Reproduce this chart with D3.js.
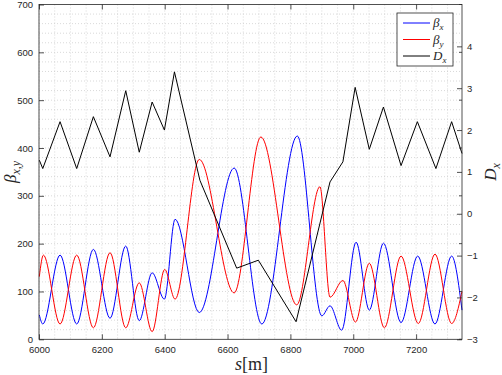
<!DOCTYPE html>
<html>
<head>
<meta charset="utf-8">
<script src="https://cdn.jsdelivr.net/npm/d3@7"></script>
<style>
  body { margin: 0; background: #fff; }
  .tick text { font-family: "Liberation Sans", Arial, sans-serif; font-size: 9.5px; fill: #262626; }
  .tick line { stroke: #262626; stroke-width: 0.8; }
</style>
</head>
<body>
<div id="chart"></div>
<script>
// beta_x (blue) at its peaks and troughs
var sBx = [6001, 6012, 6067, 6120, 6173, 6226, 6276, 6319, 6360, 6399, 6433, 6510, 6621, 6709, 6822, 6900, 6926, 6963, 7009, 7051, 7096, 7152, 7205, 7260, 7313, 7346];
var betaX = [51, 32, 176, 32, 188, 44, 195, 39, 139, 84, 251, 56, 358, 32, 425, 49, 70, 19, 203, 61, 201, 35, 174, 32, 174, 61];

// beta_y (red)
var sBy = [6001, 6014, 6067, 6120, 6173, 6226, 6276, 6319, 6360, 6400, 6433, 6510, 6621, 6706, 6820, 6894, 6926, 6967, 7007, 7051, 7099, 7152, 7207, 7260, 7313, 7346];
var betaY = [131, 176, 32, 176, 24, 181, 24, 118, 16, 146, 84, 376, 97, 423, 72, 319, 88, 123, 36, 159, 24, 174, 33, 178, 33, 100];

// D_x (black), right axis
var sDx = [6001, 6012, 6067, 6120, 6173, 6226, 6276, 6319, 6360, 6399, 6431, 6512, 6629, 6698, 6818, 6926, 6967, 7006, 7051, 7096, 7152, 7204, 7263, 7313, 7346];
var dispX = [1.28, 1.08, 2.20, 1.08, 2.32, 1.36, 2.94, 1.47, 2.67, 2.00, 3.39, 0.80, -1.30, -1.11, -2.58, 0.76, 1.24, 3.02, 1.54, 2.55, 1.15, 2.20, 1.08, 2.20, 1.44];

var xTicks = [6000, 6200, 6400, 6600, 6800, 7000, 7200];
var yTicks = [0, 100, 200, 300, 400, 500, 600, 700];
var rTicks = [-3, -2, -1, 0, 1, 2, 3, 4];

var W = 502, H = 375;
var margin = {top: 4.5, right: 40, bottom: 35.7, left: 39};
var width = W - margin.left - margin.right,
    height = H - margin.top - margin.bottom;

var svg = d3.select("#chart").append("svg")
    .attr("width", W)
    .attr("height", H);
var g = svg.append("g").attr("transform", "translate(" + margin.left + "," + margin.top + ")");

var x = d3.scaleLinear().domain([6000, 7346]).range([0, width]);
var y = d3.scaleLinear().domain([0, 700]).range([height, 0]);
var yr = d3.scaleLinear().domain([-3, 5]).range([height, 0]);

// dotted grid, major and minor
var gx = d3.range(6000, 7346, 50), gy = d3.range(20, 700, 20);
g.selectAll(".gx").data(gx).enter().append("line")
    .attr("x1", function(d) { return x(d); }).attr("x2", function(d) { return x(d); })
    .attr("y1", 0).attr("y2", height)
    .attr("stroke", "#c8c8c8").attr("stroke-width", 0.7).attr("stroke-dasharray", "1,2");
g.selectAll(".gy").data(gy).enter().append("line")
    .attr("y1", function(d) { return y(d); }).attr("y2", function(d) { return y(d); })
    .attr("x1", 0).attr("x2", width)
    .attr("stroke", "#c8c8c8").attr("stroke-width", 0.7).attr("stroke-dasharray", "1,2");

// lines
var lineL = d3.line().curve(d3.curveMonotoneX);
g.append("path")
    .attr("d", lineL(sBx.map(function(s, i) { return [x(s), y(betaX[i])]; })))
    .attr("fill", "none").attr("stroke", "#0000ff").attr("stroke-width", 1);
g.append("path")
    .attr("d", lineL(sBy.map(function(s, i) { return [x(s), y(betaY[i])]; })))
    .attr("fill", "none").attr("stroke", "#ff0000").attr("stroke-width", 1);
g.append("path")
    .attr("d", d3.line()(sDx.map(function(s, i) { return [x(s), yr(dispX[i])]; })))
    .attr("fill", "none").attr("stroke", "#000").attr("stroke-width", 1);

// axes
g.append("g").attr("transform", "translate(0," + height + ")")
    .call(d3.axisBottom(x).tickValues(xTicks).tickFormat(d3.format("d")).tickSizeInner(-5).tickSizeOuter(0).tickPadding(6.5))
    .call(function(a) { a.select(".domain").remove(); });
g.append("g")
    .call(d3.axisTop(x).tickValues(xTicks).tickSizeInner(-5).tickSizeOuter(0).tickFormat(""))
    .call(function(a) { a.select(".domain").remove(); });
g.append("g")
    .call(d3.axisLeft(y).tickValues(yTicks).tickSizeInner(-5).tickSizeOuter(0).tickPadding(6))
    .call(function(a) { a.select(".domain").remove(); });
g.append("g").attr("transform", "translate(" + width + ",0)")
    .call(d3.axisRight(yr).tickValues(rTicks).tickSizeInner(-5).tickSizeOuter(0).tickPadding(5))
    .call(function(a) { a.select(".domain").remove(); });
// small marks on the right side at the left axis ticks
g.selectAll(".rm").data(yTicks).enter().append("line")
    .attr("x1", width - 3).attr("x2", width)
    .attr("y1", function(d) { return y(d); }).attr("y2", function(d) { return y(d); })
    .attr("stroke", "#262626").attr("stroke-width", 0.8);

g.append("rect").attr("width", width).attr("height", height)
    .attr("fill", "none").attr("stroke", "#262626").attr("stroke-width", 0.8);

// labels
var serif = "'Liberation Serif', 'DejaVu Serif', serif";
var yl = svg.append("text")
    .attr("transform", "translate(16," + (margin.top + height / 2) + ") rotate(-90)")
    .attr("text-anchor", "middle").attr("font-family", serif).attr("font-size", 17).attr("fill", "#262626");
yl.append("tspan").attr("font-style", "italic").text("β");
yl.append("tspan").attr("font-style", "italic").attr("font-size", 12).attr("dy", 4).text("x,y");

var rl = svg.append("text")
    .attr("transform", "translate(496," + (margin.top + height / 2) + ") rotate(-90)")
    .attr("text-anchor", "middle").attr("font-family", serif).attr("font-size", 17).attr("fill", "#262626");
rl.append("tspan").attr("font-style", "italic").text("D");
rl.append("tspan").attr("font-style", "italic").attr("font-size", 12).attr("dy", 4).text("x");

var xl = svg.append("text")
    .attr("x", margin.left + width / 2 + 1).attr("y", 370)
    .attr("text-anchor", "middle").attr("font-family", serif).attr("font-size", 18).attr("fill", "#262626");
xl.append("tspan").attr("font-style", "italic").text("s");
xl.append("tspan").text("[m]");

// legend
var legItems = [["β", "x", "#0000ff"], ["β", "y", "#ff0000"], ["D", "x", "#000000"]];
var leg = svg.append("g").attr("transform", "translate(397,13)");
leg.append("rect").attr("width", 56).attr("height", 53)
    .attr("fill", "#fff").attr("stroke", "#262626").attr("stroke-width", 0.8);
legItems.forEach(function(it, i) {
    var yy = 10 + i * 16.5;
    leg.append("line").attr("x1", 6).attr("x2", 33).attr("y1", yy).attr("y2", yy)
        .style("stroke", it[2]).attr("stroke-width", 1);
    var t = leg.append("text").attr("x", 36).attr("y", yy + 4)
        .attr("font-family", serif).attr("font-style", "italic").attr("font-size", 13).attr("fill", "#262626");
    t.append("tspan").text(it[0]);
    t.append("tspan").attr("font-size", 9).attr("dy", 3).text(it[1]);
});
</script>
</body>
</html>
